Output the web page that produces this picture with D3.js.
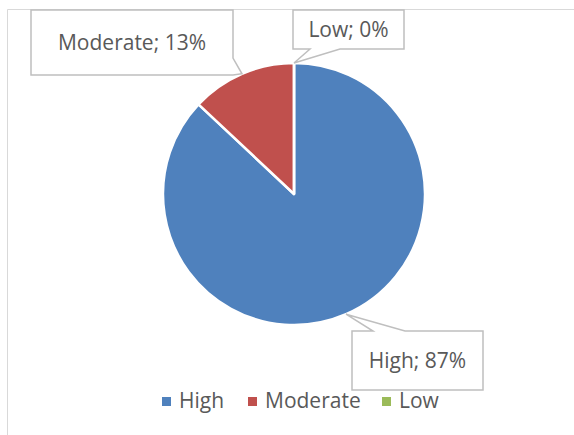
<!DOCTYPE html>
<html>
<head>
<meta charset="utf-8">
<script src="https://cdnjs.cloudflare.com/ajax/libs/d3/7.8.5/d3.min.js"></script>
<style>
  body { margin: 0; background: #fff; }
  svg { display: block; }
  text { font-family: "Open Sans", "Noto Sans", sans-serif; fill: #595959; }
</style>
</head>
<body>
<svg id="chart" width="574" height="435"></svg>
<script>
var categories = ["High", "Moderate", "Low"];
var values = [87, 13, 0];
var colors = ["#4F81BD", "#C0504D", "#9BBB59"];

var width = 574, height = 435;
var center = {x: 294, y: 194};
var radius = 131;

// callout boxes: x, y, w, h, side the pointer leaves from, and where along it
var callouts = [
	{x: 352, y: 331, w: 131, h: 59, side: "top", b0: 373, b1: 405},
	{x: 31, y: 10, w: 202, h: 65, side: "right", b0: 58, b1: 75},
	{x: 293, y: 10, w: 111, h: 39, side: "bottom", b0: 310, b1: 340}
];

var svg = d3.select("#chart");

// chart frame (only top and left edges fall inside the picture)
svg.append("path")
	.attr("d", "M7.5,435 L7.5,9.5 L574,9.5")
	.attr("fill", "none")
	.attr("stroke", "#d9d9d9")
	.attr("stroke-width", 1);

var data = categories.map(function(c, i){ return {name: c, value: values[i], color: colors[i]}; });

var pie = d3.pie()
	.sort(null)
	.value(function(d){ return d.value; });

var arcs = pie(data);

var arc = d3.arc()
	.innerRadius(0)
	.outerRadius(radius);

var edge = d3.arc()
	.innerRadius(radius)
	.outerRadius(radius);

var g = svg.append("g")
	.attr("transform", "translate(" + center.x + "," + center.y + ")");

g.selectAll(".slice")
	.data(arcs)
	.enter().append("path")
	.attr("class", "slice")
	.attr("d", arc)
	.attr("fill", function(d){ return d.data.color; })
	.attr("stroke", "#fff")
	.attr("stroke-width", 2.5)
	.attr("stroke-linejoin", "round");

function calloutPath(c, tip){
	var x0 = c.x, y0 = c.y, x1 = c.x + c.w, y1 = c.y + c.h;
	var p;
	if(c.side == "top"){
		p = [[x0, y0], [c.b0, y0], tip, [c.b1, y0], [x1, y0], [x1, y1], [x0, y1]];
	} else if(c.side == "right"){
		p = [[x0, y0], [x1, y0], [x1, c.b0], tip, [x1, c.b1], [x1, y1], [x0, y1]];
	} else {
		p = [[x0, y0], [x1, y0], [x1, y1], [c.b1, y1], tip, [c.b0, y1], [x0, y1]];
	}
	return "M" + p.map(function(q){ return q[0] + "," + q[1]; }).join("L") + "Z";
}

var labels = svg.append("g");

arcs.forEach(function(d, i){
	var c = callouts[i];
	var t = edge.centroid(d);
	var tip = [center.x + t[0], center.y + t[1]];

	labels.append("path")
		.attr("d", calloutPath(c, tip))
		.attr("fill", "#fff")
		.attr("stroke", "#bfbfbf")
		.attr("stroke-width", 1.5)
		.attr("stroke-linejoin", "miter");

	labels.append("text")
		.attr("x", c.x + c.w / 2)
		.attr("y", c.y + c.h / 2 + 7.5)
		.attr("text-anchor", "middle")
		.style("font-size", "21px")
		.text(d.data.name + "; " + d3.format(".0f")(d.data.value) + "%");
});

// legend
var legendX = [162, 248, 382];
var legend = svg.append("g");

data.forEach(function(d, i){
	var item = legend.append("g")
		.attr("transform", "translate(" + legendX[i] + ",397)");
	item.append("rect")
		.attr("width", 9)
		.attr("height", 9)
		.attr("fill", d.color);
	item.append("text")
		.attr("x", 17)
		.attr("y", 11)
		.style("font-size", "21px")
		.text(d.name);
});
</script>
</body>
</html>
